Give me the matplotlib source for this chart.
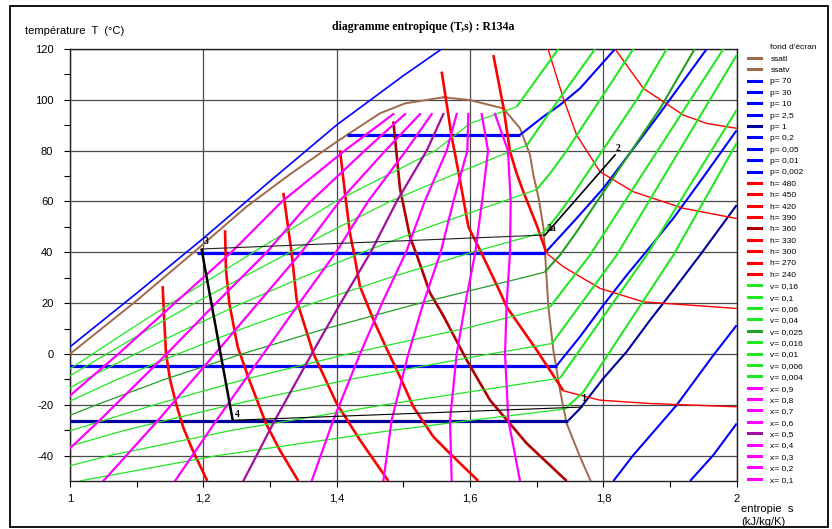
import numpy as np
import matplotlib
matplotlib.use('Agg')
import matplotlib.pyplot as plt
from matplotlib.lines import Line2D
from matplotlib.patches import Rectangle

plt.rcParams['font.family'] = ['Liberation Sans', 'DejaVu Sans']
plt.rcParams['axes.unicode_minus'] = False

# ---------------- data (s in kJ/kg/K, T in degC) ----------------
satl_s = [1.0, 1.1, 1.19, 1.265, 1.33, 1.40, 1.465, 1.5025, 1.56]
satl_T = [0, 21, 41, 58, 70.7, 83.5, 94.7, 98.6, 101]
satv_s = [1.56, 1.6, 1.65, 1.675, 1.69, 1.695, 1.7025, 1.71, 1.7125, 1.7175, 1.725, 1.735, 1.745, 1.765, 1.781]
satv_T = [101, 99.9, 96.6, 88.8, 78.3, 70.4, 61.9, 50, 40, 18.5, 1.5, -14.3, -27.4, -40.5, -50]

p_labels = ['p= 70', 'p= 30', 'p= 10', 'p= 2,5', 'p= 1', 'p= 0,2', 'p= 0,05', 'p= 0,01', 'p= 0,002']
p70_s = [1.0, 1.1, 1.2, 1.3, 1.4, 1.5, 1.5575]
p70_T = [2.8, 23.9, 45.5, 68.0, 90.1, 109.5, 120]
p30_s = [1.416, 1.675, 1.71, 1.735, 1.765, 1.8175]
p30_T = [86.2, 86.2, 93.4, 98.0, 104.5, 120]
p10_s = [1.19, 1.7125, 1.76, 1.80, 1.815, 1.88, 1.955]
p10_T = [39.8, 39.8, 53.4, 65.2, 70.4, 93.0, 120]
p2_5_s = [0.98, 1.73, 1.765, 1.80, 1.835, 1.865, 1.905, 1.945, 1.995, 2.0]
p2_5_T = [-4.6, -4.6, 6.8, 19.2, 31.0, 40.5, 53.4, 67.8, 86.2, 88.0]
p1_s = [0.95, 1.7475, 1.765, 1.7725, 1.80, 1.835, 1.87, 1.905, 1.945, 2.0]
p1_T = [-26.2, -26.2, -21.5, -18.9, -9.6, 0.9, 13.3, 25.1, 38.9, 58.6]
p0_2_s = [1.815, 1.845, 1.91, 1.965, 2.0]
p0_2_T = [-50, -39.8, -20.1, -0.5, 11.3]
p0_05_s = [1.93, 1.965, 2.0]
p0_05_T = [-50, -39.8, -27.4]
p0_01_s, p0_01_T = [], []
p0_002_s, p0_002_T = [], []

h_labels = ['h= 480', 'h= 450', 'h= 420', 'h= 390', 'h= 360', 'h= 330', 'h= 300', 'h= 270', 'h= 240']
h480_s = [1.8175, 1.86, 1.92, 1.955, 2.0]
h480_T = [120, 104.5, 94.0, 90.7, 88.8]
h450_s = [1.717, 1.74, 1.76, 1.795, 1.845, 1.92, 2.0]
h450_T = [120, 100.6, 86.1, 71.7, 63.8, 57.3, 53.3]
h420_s = [1.635, 1.65, 1.66, 1.67, 1.68, 1.70, 1.715, 1.74, 1.795, 1.86, 2.0]
h420_T = [117.6, 97.3, 79.6, 71.0, 63.8, 50.7, 39.6, 34.3, 25.8, 20.5, 17.9]
h390_s = [1.5575, 1.5725, 1.585, 1.5975, 1.615, 1.645, 1.655, 1.70, 1.74, 1.775, 1.795, 1.87, 2.0]
h390_T = [111.1, 85.5, 68.4, 50, 40.9, 24.4, 18.5, 1.5, -14.5, -16.9, -18.2, -19.5, -20.8]
h360_s = [1.485, 1.495, 1.51, 1.52, 1.54, 1.56, 1.595, 1.63, 1.685, 1.745]
h360_T = [91.5, 65, 46, 39, 24, 15, -2.4, -18.2, -35.2, -50]
h330_s = [1.405, 1.4125, 1.42, 1.425, 1.435, 1.4575, 1.475, 1.495, 1.515, 1.545, 1.57, 1.6125]
h330_T = [80.2, 63.2, 47.4, 40.9, 26.5, 12, 2, -9, -20.8, -32.6, -39.2, -50]
h300_s = [1.32, 1.3325, 1.34, 1.365, 1.40, 1.435, 1.4775]
h300_T = [63.4, 39.6, 21.2, 0.2, -19.5, -33.9, -50]
h270_s = [1.2325, 1.234, 1.239, 1.2515, 1.269, 1.294, 1.315, 1.3425]
h270_T = [48.7, 33, 19.9, 2.8, -10.3, -27.4, -38, -50]
h240_s = [1.139, 1.141, 1.144, 1.150, 1.159, 1.170, 1.184, 1.206]
h240_T = [26.7, 15, 0.2, -10, -19.5, -29, -37.9, -50]

v_labels = ['v= 0,16', 'v= 0,1', 'v= 0,06', 'v= 0,04', 'v= 0,025', 'v= 0,016', 'v= 0,01', 'v= 0,006', 'v= 0,004']
v016_s = [1.014, 1.221, 1.485, 1.605, 1.742, 1.77, 1.905, 2.0]
v016_T = [-50, -40, -30, -26, -21.7, -15, 38.9, 83]
v01_s = [0.911, 1.059, 1.244, 1.472, 1.735, 1.865, 2.0]
v01_T = [-50, -40, -30, -20, -9.5, 38.9, 96]
v006_s = [0.842, 0.950, 1.083, 1.242, 1.420, 1.630, 1.723, 1.82, 2.0]
v006_T = [-50, -40, -30, -20, -10, 0, 4.1, 38.9, 117.6]
v004_s = [0.808, 0.896, 1.003, 1.127, 1.262, 1.417, 1.592, 1.72, 1.78, 1.98]
v004_T = [-50, -40, -30, -20, -10, 0, 10, 18.5, 38.9, 120]
v0025_s = [0.782, 0.856, 0.943, 1.040, 1.142, 1.258, 1.384, 1.525, 1.679, 1.712, 1.735, 1.76, 1.885, 1.937]
v0025_T = [-50, -40, -30, -20, -10, 0, 10, 20, 30, 32.2, 38.9, 48.1, 96.6, 120]
v0016_s = [0.906, 0.988, 1.071, 1.162, 1.259, 1.365, 1.479, 1.603, 1.7105, 1.73, 1.755, 1.85, 1.895]
v0016_T = [-30, -20, -10, 0, 10, 20, 30, 40, 47.9, 54, 63, 100, 120]
v001_s = [0.954, 1.023, 1.098, 1.176, 1.259, 1.347, 1.439, 1.539, 1.649, 1.70, 1.72, 1.745, 1.845]
v001_T = [-20, -10, 0, 10, 20, 30, 40, 50, 60, 64.7, 71, 80, 120]
v0006_s = [0.991, 1.055, 1.120, 1.187, 1.258, 1.330, 1.404, 1.480, 1.570, 1.663, 1.685, 1.715, 1.7875]
v0006_T = [-10, 0, 10, 20, 30, 40, 50, 60, 70, 80, 82, 93.4, 120]
v0004_s = [0.976, 1.034, 1.092, 1.152, 1.214, 1.275, 1.337, 1.398, 1.473, 1.548, 1.60, 1.67, 1.7325]
v0004_T = [-10, 0, 10, 20, 30, 40, 50, 60, 70, 80, 90.7, 97.3, 120]

x_labels = ['x= 0,9', 'x= 0,8', 'x= 0,7', 'x= 0,6', 'x= 0,5', 'x= 0,4', 'x= 0,3', 'x= 0,2', 'x= 0,1']
x_T = [94.4, 80, 60, 40, 20, 0, -26, -50]
x09_s = [1.6375, 1.657, 1.661, 1.660, 1.655, 1.6525, 1.6575, 1.675]
x08_s = [1.6175, 1.627, 1.618, 1.608, 1.593, 1.58, 1.57, 1.5725]
x07_s = [1.5975, 1.596, 1.575, 1.556, 1.530, 1.5075, 1.4825, 1.47]
x06_s = [1.58, 1.565, 1.532, 1.504, 1.468, 1.435, 1.395, 1.3625]
x05_s = [1.56, 1.535, 1.490, 1.451, 1.406, 1.3625, 1.3075, 1.26]
x04_s = [1.5425, 1.504, 1.447, 1.399, 1.344, 1.29, 1.22, 1.1575]
x03_s = [1.525, 1.473, 1.404, 1.347, 1.282, 1.2175, 1.1325, 1.05]
x02_s = [1.5025, 1.442, 1.361, 1.295, 1.219, 1.145, 1.045, 0.948]
x01_s = [1.485, 1.412, 1.318, 1.242, 1.157, 1.0725, 0.9575, 0.844]

# refrigeration cycle
c34_s, c34_T = [1.1975, 1.244], [41.0, -26.1]
c41_s, c41_T = [1.244, 1.768], [-26.1, -20.9]
c32a_s, c32a_T = [1.1975, 1.7125], [41.3, 46.8]
c2a2_s, c2a2_T = [1.7125, 1.8175], [46.8, 78.3]
pt_labels = ['1', '2', '2a', '3', '4']
pt_s = [1.7705, 1.822, 1.7225, 1.2035, 1.2515]
pt_T = [-17.7, 81.0, 49.4, 44.4, -23.7]

# ---------------- styles ----------------
BROWN = '#a0694b'
BLUE = '#0000ff'
NAVY = '#00009c'
RED = '#ff0000'
DRED = '#b00000'
GREEN = '#22e622'
DGREEN = '#22a022'
MAG = '#ff00ff'
PURP = '#a010a0'

fig = plt.figure(figsize=(8.32, 5.29), dpi=100)
ax = fig.add_axes([70 / 832, 1 - 481 / 529, 666.7 / 832, 432 / 529])

vT_asc = np.array(satv_T[::-1], float)
vS_asc = np.array(satv_s[::-1], float)


def draw(s, T, color, lw_in, lw_out, z):
    s = np.asarray(s, float)
    T = np.asarray(T, float)
    if len(s) < 2:
        return
    bound = np.maximum(np.interp(T, vT_asc, vS_asc), 1.70) + 0.007
    inside = s <= bound
    si, ti, so, to = [], [], [], []
    for i in range(len(s) - 1):
        if inside[i] and inside[i + 1]:
            si += [s[i], s[i + 1], np.nan]
            ti += [T[i], T[i + 1], np.nan]
        else:
            so += [s[i], s[i + 1], np.nan]
            to += [T[i], T[i + 1], np.nan]
    if si:
        ax.plot(si, ti, color=color, lw=lw_in, zorder=z, solid_capstyle='butt')
    if so:
        ax.plot(so, to, color=color, lw=lw_out, zorder=z, solid_capstyle='butt')


# saturation curves
ax.plot(satl_s, satl_T, color=BROWN, lw=1.4, zorder=3)
ax.plot(satv_s, satv_T, color=BROWN, lw=1.4, zorder=3)

p_data = [(p70_s, p70_T), (p30_s, p30_T), (p10_s, p10_T), (p2_5_s, p2_5_T), (p1_s, p1_T),
          (p0_2_s, p0_2_T), (p0_05_s, p0_05_T), (p0_01_s, p0_01_T), (p0_002_s, p0_002_T)]
p_cols = [BLUE, BLUE, BLUE, BLUE, NAVY, BLUE, BLUE, BLUE, BLUE]
for i, ((s, T), c) in enumerate(zip(p_data, p_cols)):
    if i == 0:
        draw(s, T, c, 1.2, 1.2, 4)
    else:
        draw(s, T, c, 2.3, 1.5, 4)

h_data = [(h480_s, h480_T), (h450_s, h450_T), (h420_s, h420_T), (h390_s, h390_T), (h360_s, h360_T),
          (h330_s, h330_T), (h300_s, h300_T), (h270_s, h270_T), (h240_s, h240_T)]
h_cols = [RED, RED, RED, RED, DRED, RED, RED, RED, RED]
for (s, T), c in zip(h_data, h_cols):
    draw(s, T, c, 1.9, 1.0, 5)

v_data = [(v016_s, v016_T), (v01_s, v01_T), (v006_s, v006_T), (v004_s, v004_T), (v0025_s, v0025_T),
          (v0016_s, v0016_T), (v001_s, v001_T), (v0006_s, v0006_T), (v0004_s, v0004_T)]
v_cols = [GREEN, GREEN, GREEN, GREEN, DGREEN, GREEN, GREEN, GREEN, GREEN]
for (s, T), c in zip(v_data, v_cols):
    draw(s, T, c, 0.9, 1.5, 6)

x_data = [x09_s, x08_s, x07_s, x06_s, x05_s, x04_s, x03_s, x02_s, x01_s]
x_cols = [MAG, MAG, MAG, MAG, PURP, MAG, MAG, MAG, MAG]
for s, c in zip(x_data, x_cols):
    ax.plot(s, x_T, color=c, lw=1.6, zorder=7)

# cycle
ax.plot(c34_s, c34_T, color='black', lw=1.8, zorder=9)
ax.plot(c41_s, c41_T, color='black', lw=0.8, zorder=9)
ax.plot(c32a_s, c32a_T, color='#202020', lw=0.8, zorder=9)
ax.plot(c2a2_s, c2a2_T, color='black', lw=1.2, zorder=9)
for lab, s, T in zip(pt_labels, pt_s, pt_T):
    ax.text(s, T, lab, fontsize=7, fontweight='bold', family=['Liberation Serif', 'DejaVu Serif'],
            ha='center', va='center', zorder=10)

# axes
ax.set_xlim(1, 2)
ax.set_ylim(-50, 120)
ax.set_xticks([1.0, 1.2, 1.4, 1.6, 1.8, 2.0])
ax.set_xticklabels(['1', '1,2', '1,4', '1,6', '1,8', '2'])
ax.set_xticks([1.1, 1.3, 1.5, 1.7, 1.9], minor=True)
ax.set_yticks([-40, -20, 0, 20, 40, 60, 80, 100, 120])
ax.set_yticks([-30, -10, 10, 30, 50, 70, 90, 110], minor=True)
ax.tick_params(which='both', direction='out', length=4, width=0.8, colors='black', labelsize=8)
ax.tick_params(axis='y', pad=8)
ax.tick_params(axis='x', pad=5)
ax.set_axisbelow(True)
ax.grid(which='major', color='#4a4a4a', lw=0.9)
for sp in ax.spines.values():
    sp.set_color('#202020')
    sp.set_linewidth(1.0)

# texts
fig.text(423 / 832, 1 - 27 / 529, 'diagramme entropique (T,s) : R134a', ha='center', va='center',
         fontsize=8.5, fontweight='bold', family=['Liberation Serif', 'DejaVu Serif'])
fig.text(25 / 832, 1 - 31 / 529, 'température  T  (°C)', ha='left', va='center', fontsize=8)
fig.text(741 / 832, 1 - 509 / 529, 'entropie  s', ha='left', va='center', fontsize=8)
fig.text(741 / 832, 1 - 522 / 529, '(kJ/kg/K)', ha='left', va='center', fontsize=8)

# legend
handles = [Line2D([], [], color='none')]
labels = ["fond d'écran"]
handles += [Line2D([], [], color=BROWN, lw=2.2), Line2D([], [], color=BROWN, lw=2.2)]
labels += ['ssatl', 'ssatv']
for lab, c in zip(p_labels, p_cols):
    handles.append(Line2D([], [], color=c, lw=2.2)); labels.append(lab)
for lab, c in zip(h_labels, h_cols):
    handles.append(Line2D([], [], color=c, lw=2.2)); labels.append(lab)
for lab, c in zip(v_labels, v_cols):
    handles.append(Line2D([], [], color=c, lw=2.2)); labels.append(lab)
for lab, c in zip(x_labels, x_cols):
    handles.append(Line2D([], [], color=c, lw=2.2)); labels.append(lab)
fig.legend(handles, labels, loc='upper left', bbox_to_anchor=(748 / 832, 1 - 43.5 / 529),
           frameon=False, fontsize=6.0, handlelength=1.5, handletextpad=1.2,
           labelspacing=0.425, borderpad=0, borderaxespad=0)

# outer frame
fig.patches.append(Rectangle((10 / 832, 2 / 529), 818 / 832, 521 / 529, transform=fig.transFigure,
                             fill=False, edgecolor='black', lw=1.3))

fig.savefig('out.png', dpi=100)
